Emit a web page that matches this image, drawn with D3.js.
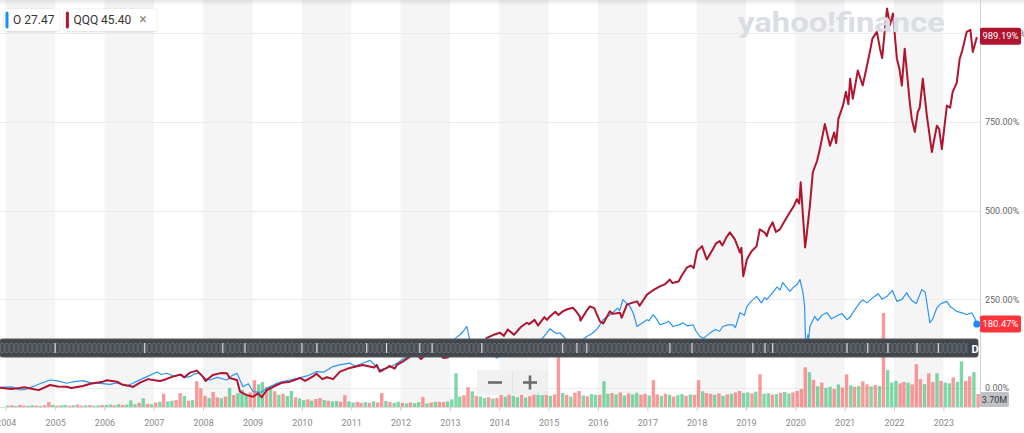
<!DOCTYPE html>
<html>
<head>
<meta charset="utf-8">
<script src="https://cdn.jsdelivr.net/npm/d3@7"></script>
<style>
body { margin: 0; background: #fff; overflow: hidden; }
svg { display: block; font-family: Roboto, "Liberation Sans", sans-serif; }
</style>
</head>
<body>
<svg id="chart" width="1024" height="433"></svg>
<script>
// ---- data (percent change since start) ----
const qqqDates = ["2003-11-19","2004-02-10","2004-04-15","2004-05-20","2004-07-20","2004-09-01","2004-11-24","2005-01-20","2005-03-28","2005-05-01","2005-07-25","2005-09-20","2005-12-21","2006-01-20","2006-04-03","2006-05-10","2006-07-08","2006-08-01","2006-09-21","2006-11-20","2006-12-25","2007-02-15","2007-03-10","2007-05-21","2007-07-20","2007-08-15","2007-09-25","2007-11-16","2007-12-30","2008-01-20","2008-03-13","2008-05-10","2008-06-25","2008-07-15","2008-09-08","2008-09-30","2008-11-20","2009-01-05","2009-02-11","2009-03-10","2009-04-17","2009-06-30","2009-08-10","2009-10-05","2009-12-18","2010-01-25","2010-03-22","2010-04-20","2010-06-01","2010-07-05","2010-08-20","2010-10-10","2010-12-22","2011-01-30","2011-03-27","2011-06-20","2011-07-09","2011-08-01","2011-09-22","2011-10-10","2011-11-20","2011-12-05","2012-01-20","2012-03-10","2012-04-10","2012-05-01","2012-06-01","2012-08-06","2012-09-20","2012-11-11","2012-12-15","2013-01-01","2013-02-23","2013-05-28","2013-07-15","2013-08-28","2013-10-02","2013-11-20","2014-01-07","2014-02-05","2014-03-05","2014-04-20","2014-06-10","2014-07-24","2014-08-10","2014-09-20","2014-10-15","2014-12-01","2014-12-20","2015-01-11","2015-02-20","2015-03-15","2015-04-16","2015-05-20","2015-06-29","2015-07-20","2015-08-20","2015-08-25","2015-10-10","2015-11-03","2015-12-05","2016-01-16","2016-02-10","2016-03-29","2016-04-20","2016-06-12","2016-06-25","2016-08-03","2016-09-10","2016-10-16","2016-11-05","2016-12-29","2017-02-10","2017-04-04","2017-05-10","2017-06-17","2017-07-05","2017-08-20","2017-09-10","2017-10-21","2017-11-20","2017-12-10","2018-01-04","2018-02-10","2018-03-17","2018-04-30","2018-05-25","2018-06-21","2018-07-10","2018-08-10","2018-09-04","2018-10-11","2018-11-17","2018-11-28","2018-12-12","2019-01-08","2019-02-10","2019-03-21","2019-04-13","2019-05-20","2019-06-04","2019-06-20","2019-07-18","2019-08-10","2019-09-09","2019-10-10","2019-11-22","2019-12-20","2020-01-13","2020-01-30","2020-02-10","2020-03-14","2020-03-25","2020-04-18","2020-05-10","2020-06-10","2020-07-01","2020-08-07","2020-09-14","2020-10-15","2020-10-30","2020-11-15","2020-12-19","2021-01-10","2021-01-28","2021-02-10","2021-03-02","2021-04-08","2021-05-14","2021-06-10","2021-07-06","2021-07-25","2021-08-27","2021-09-19","2021-10-05","2021-10-25","2021-11-10","2021-12-02","2021-12-24","2022-01-22","2022-02-10","2022-02-28","2022-03-21","2022-04-27","2022-05-12","2022-06-04","2022-06-26","2022-07-10","2022-08-02","2022-09-01","2022-10-08","2022-10-25","2022-11-14","2022-12-01","2022-12-21","2023-01-27","2023-02-20","2023-03-11","2023-04-10","2023-05-02","2023-05-20","2023-06-23","2023-07-20","2023-08-07","2023-09-06"];
const qqqPct = [1,-3,0,2,-2.8,-6,8.5,4,3.7,0,5.7,12,17.8,22,17.8,10,5.7,3,15,25,22.6,20,22,32,38,30,43.3,49,32,20,36.8,42,41.6,28,22.6,-10.5,-20,-24.6,-15,-26,-5.7,8.5,15,17.8,28.3,20,32,40,25,30.3,25,46.1,56.6,60,65.1,58,65.1,46.1,56.6,62,55,65.1,75,88.6,95,93.4,82,102.7,108,84.9,86,93.4,107.6,121.7,128,122,141.5,150,155.7,147,165,150,172,184,180,192,176,200,192,201.8,215,206,216,222,226.4,218,201.8,190,218,230.1,225,187.7,182,216,209,212.3,198,234.9,240,244.3,232,263.2,275,286.7,292,305.7,296,300,315,339.7,345,338,385.8,400,362.3,390.6,408,414.1,402,425,438.7,418.9,382.1,395,315,362.3,385,400,447.2,438,428.2,448,467,440,447.2,468,495.3,512,532.1,520,580.2,396.3,430,513.2,608.5,640,673.6,744.4,683,720,690,758.6,796.2,835,800,871.8,815.2,895.3,852.8,900,947.4,985,1004,956.7,930,1010,1069.9,1022.6,1055.8,928.4,900,852.8,956.7,806.7,760,721.8,778.4,790,871.8,767.9,665.2,700,739.6,730,673.6,796.2,790,835,860,928.4,950,1004,1010,947.4,989.19];

const oDates = ["2003-11-19","2004-02-20","2004-04-15","2004-05-25","2004-07-20","2004-09-10","2004-11-24","2005-01-20","2005-03-28","2005-05-10","2005-07-25","2005-09-15","2005-11-29","2006-02-10","2006-03-30","2006-06-16","2006-07-30","2006-10-01","2006-11-12","2007-01-25","2007-02-25","2007-04-08","2007-05-30","2007-07-12","2007-08-15","2007-09-25","2007-10-30","2007-12-08","2008-01-10","2008-02-21","2008-04-15","2008-06-25","2008-08-01","2008-09-08","2008-10-22","2008-12-01","2009-01-05","2009-03-05","2009-04-17","2009-06-30","2009-08-10","2009-10-05","2009-12-01","2010-02-08","2010-04-22","2010-06-15","2010-08-18","2010-10-15","2010-12-22","2011-01-30","2011-03-27","2011-05-20","2011-08-01","2011-10-20","2011-12-05","2012-01-20","2012-03-10","2012-05-23","2012-06-20","2012-08-28","2012-10-20","2012-11-20","2013-01-01","2013-02-10","2013-03-15","2013-04-10","2013-05-06","2013-05-25","2013-06-12","2013-07-10","2013-09-17","2013-11-01","2013-12-15","2014-01-25","2014-03-19","2014-05-10","2014-07-09","2014-09-10","2014-10-20","2014-11-20","2015-01-11","2015-02-05","2015-03-02","2015-03-24","2015-05-15","2015-06-20","2015-07-13","2015-08-25","2015-10-11","2015-11-25","2015-12-30","2016-02-08","2016-03-10","2016-04-21","2016-05-25","2016-06-10","2016-07-04","2016-08-25","2016-09-20","2016-10-16","2016-11-10","2016-12-29","2017-01-15","2017-02-13","2017-03-10","2017-04-04","2017-05-05","2017-06-10","2017-07-09","2017-08-25","2017-09-21","2017-10-25","2017-12-05","2017-12-28","2018-01-26","2018-02-20","2018-04-09","2018-05-20","2018-06-20","2018-07-13","2018-08-20","2018-09-26","2018-10-15","2018-11-17","2018-12-20","2019-01-08","2019-02-10","2019-03-21","2019-04-25","2019-05-20","2019-06-04","2019-07-18","2019-08-20","2019-09-10","2019-10-01","2019-11-22","2019-12-20","2020-01-15","2020-02-05","2020-02-27","2020-03-10","2020-03-19","2020-03-24","2020-04-03","2020-04-10","2020-04-18","2020-05-24","2020-06-15","2020-07-15","2020-08-22","2020-09-25","2020-11-05","2020-12-10","2021-01-18","2021-02-10","2021-03-02","2021-04-23","2021-05-15","2021-06-15","2021-07-28","2021-09-05","2021-10-05","2021-11-10","2021-12-20","2022-01-22","2022-03-01","2022-04-05","2022-04-20","2022-05-19","2022-06-15","2022-07-25","2022-08-20","2022-09-23","2022-10-15","2022-11-14","2022-12-15","2023-01-27","2023-02-20","2023-04-10","2023-05-20","2023-06-23","2023-07-30","2023-08-20","2023-09-06"];
const oPct = [2,3,-5.7,-4,3.7,12,22.6,20,13.3,17,20.7,15,13.3,10,14,5.7,13.3,25,32,45,38,41.6,33,36.8,30,32,40,41.6,28,22.6,30,22.6,35,41.6,3.7,12,-10.5,-12,-0.8,13.3,18,22.6,27,34,46.1,45,60.3,66,69.9,62,69.9,78,50.9,60,69.9,82,93.4,107.6,100,116.9,112,105,127.4,140,150,160,173.5,140,121.7,110,101.9,95,84.9,95,93.4,105,113.2,118,132,141.5,167,160,152.8,155.7,135.9,130,127.4,132,145.2,155,168,192.5,200,212.3,225,218,249.1,230.1,210,173.5,180,192.5,190,206.6,195,178.3,182,188,173.5,178,184,175,178.3,160,145.2,140,154.8,165,160,173.5,178,178.3,170,212.3,205,230.1,245,258.4,240,255,249.1,268.9,285,276,297.2,272.6,285,292,305.7,268.9,230,107.6,95,150,140,173.5,201.8,190,205,212.3,195,203.8,210,192.5,200,212.3,240.6,248,240,254.7,266,250,258.4,275,244.3,250,268.9,258,244.3,238,277.4,270,184,195,226.4,238,244.3,230,216,212,206.6,212,198,180.47];

// monthly volume of O in millions, from Jan 2004
const volumeM = [
  0.4,0.5,0.3,0.6,0.4,0.3,0.5,0.4,0.3,0.5,1.4,0.6,
  0.4,0.5,0.6,0.4,0.5,0.7,0.4,0.5,0.6,0.4,0.5,0.6,
  0.6,0.7,0.5,0.8,0.6,0.7,1.9,0.8,1.2,2.5,0.9,0.8,
  1.3,1.5,3.8,1.6,1.8,2.0,4.0,3.2,1.8,2.0,7.4,5.4,
  3.2,2.6,4.3,2.8,2.5,3.0,5.5,3.4,4.0,4.9,3.6,4.2,
  7.7,6.5,7.2,5.8,6.0,4.5,3.5,3.8,3.2,4.6,2.8,2.5,
  2.0,2.2,1.8,2.3,2.6,2.0,1.8,1.6,1.7,1.5,3.4,1.6,
  1.3,1.5,1.2,1.4,1.2,1.6,1.3,4.0,1.7,1.4,1.2,1.5,
  1.2,1.0,1.3,1.1,1.4,2.9,1.0,1.3,1.5,1.5,1.4,1.6,
  2.2,9.7,3.0,3.4,5.7,4.5,3.2,3.0,2.6,2.8,2.4,2.6,
  3.5,3.0,4.0,3.2,2.8,3.6,2.7,3.1,3.8,4.2,3.4,4.6,
  3.2,3.6,19.0,4.0,3.5,3.0,4.1,4.6,3.3,3.1,3.7,3.5,
  3.5,7.4,3.8,4.0,3.6,4.2,3.3,3.9,3.6,4.1,3.5,3.8,
  3.3,7.7,3.6,3.2,3.8,3.5,3.0,3.4,3.7,3.2,3.6,3.5,
  7.7,4.5,4.0,3.8,3.5,3.9,3.2,3.6,3.8,4.2,4.6,4.0,
  4.2,3.9,4.4,9.4,3.8,4.0,3.6,3.7,4.1,4.3,3.9,4.2,
  4.6,5.2,11.4,10.0,7.8,6.0,7.0,5.5,5.8,5.2,6.5,5.6,
  9.4,6.2,5.8,6.0,7.4,6.5,5.9,6.3,6.0,27.0,10.6,7.0,
  7.5,6.8,7.2,7.0,6.5,12.3,8.0,6.6,9.7,7.2,9.7,7.5,
  7.0,6.8,8.5,7.2,13.1,7.5,8.8,10.0,3.7
];
// g = up month, r = down month
const volumeDir = "grgrrggrgrrg" + "rggrgrrgrggr" + "ggrgrgggrgrg" + "rgrggrrgrgrr" +
  "rgrrgrgrgggr" + "rggrgrgrggrg" + "grgrrgrggrrg" + "grrgrgrrgrgg" +
  "rgrggrgrgrrg" + "gggrrgrggrgr" + "rgrggrgrrggr" + "grrgrgrrgrgg" +
  "rggrgrgrggrr" + "grrgrgrggrgr" + "rgrrgrgrgrrg" + "grgrggrgrggr" +
  "rrrgrgrggrgr" + "rgrgrrgrgrgg" + "grrgrrrgrrgr" + "ggrggrrgr";

const yTicks = [0, 250, 500, 750, 1000];
const navMarks = ["2005-01-01","2006-10-26","2008-05-26","2008-11-06","2010-01-01","2010-04-22","2011-04-26","2011-09-20","2012-05-23","2012-08-22","2013-08-25","2015-04-16","2015-07-30","2015-10-11","2017-06-17","2017-11-28","2019-02-21","2019-05-22","2019-07-18","2021-01-18","2021-06-20","2021-11-17","2022-06-20","2022-11-25"];

const legendItems = [
  { sym: "O", val: "27.47", color: "#1a8cff" },
  { sym: "QQQ", val: "45.40", color: "#b0142f" }
];

// ---- layout ----
const plotRight = 980;
const plotBottom = 407;
const parse = d3.timeParse("%Y-%m-%d");

const svg = d3.select("#chart");

const x = d3.scaleTime()
  .domain([parse("2004-01-01"), parse("2023-01-01")])
  .range([5.7, 943.35]);
const y = d3.scaleLinear().domain([0, 1000]).range([388, 33.3]);
const yVol = d3.scaleLinear().domain([0, 27]).range([plotBottom, 313]);

const defs = svg.append("defs");
defs.append("clipPath").attr("id", "plotClip")
  .append("rect").attr("x", 0).attr("y", 0).attr("width", plotRight).attr("height", plotBottom);

const topShade = defs.append("linearGradient").attr("id", "topShade")
  .attr("x1", 0).attr("y1", 0).attr("x2", 0).attr("y2", 1);
topShade.append("stop").attr("offset", "0%").attr("stop-color", "#000").attr("stop-opacity", 0.09);
topShade.append("stop").attr("offset", "100%").attr("stop-color", "#000").attr("stop-opacity", 0);

const pat = defs.append("pattern").attr("id", "navPat")
  .attr("patternUnits", "userSpaceOnUse").attr("width", 4.6).attr("height", 18).attr("y", 339);
pat.append("rect").attr("x", 0.8).attr("y", 4.5).attr("width", 3).attr("height", 9).attr("rx", 1)
  .attr("fill", "none").attr("stroke", "#72777e").attr("stroke-width", 0.8);

const chip = defs.append("filter").attr("id", "chipShadow").attr("x", "-20%").attr("y", "-30%").attr("width", "140%").attr("height", "160%");
chip.append("feDropShadow").attr("dx", 0).attr("dy", 0.5).attr("stdDeviation", 1.2).attr("flood-color", "#000").attr("flood-opacity", 0.18);

const plot = svg.append("g").attr("clip-path", "url(#plotClip)");

// alternating year bands
const bandYears = d3.range(2004, 2023, 2);
plot.selectAll("rect.band").data(bandYears).join("rect")
  .attr("class", "band")
  .attr("x", d => x(new Date(d, 0, 1)))
  .attr("width", d => x(new Date(d + 1, 0, 1)) - x(new Date(d, 0, 1)))
  .attr("y", 0).attr("height", plotBottom)
  .attr("fill", "#f5f5f5");

// grid lines
plot.selectAll("line.grid").data(yTicks).join("line")
  .attr("class", "grid")
  .attr("x1", 0).attr("x2", plotRight)
  .attr("y1", d => Math.round(y(d)) + 0.5).attr("y2", d => Math.round(y(d)) + 0.5)
  .attr("stroke", "#ebebeb");

// watermark
svg.append("text")
  .attr("x", 738).attr("y", 32)
  .attr("textLength", 207).attr("lengthAdjust", "spacingAndGlyphs")
  .attr("font-size", 28).attr("font-weight", "bold")
  .attr("fill", "#dadde2")
  .text("yahoo!finance");

// volume bars
const volData = volumeM.map((v, i) => ({
  date: new Date(2004 + Math.floor(i / 12), i % 12, 15),
  v: v,
  up: volumeDir[i] === "g"
}));
plot.selectAll("rect.vol").data(volData).join("rect")
  .attr("class", "vol")
  .attr("x", d => x(d.date) - 1.7)
  .attr("width", 3.4)
  .attr("y", d => yVol(d.v))
  .attr("height", d => plotBottom - yVol(d.v))
  .attr("fill", d => d.up ? "#2fbf6f" : "#f75a5a")
  .attr("fill-opacity", 0.62);

// lines
const line = d3.line()
  .x(d => x(d.date))
  .y(d => y(d.pct));
const oSeries = oDates.map((d, i) => ({ date: parse(d), pct: oPct[i] }));
const qqqSeries = qqqDates.map((d, i) => ({ date: parse(d), pct: qqqPct[i] }));

plot.append("path").datum(oSeries)
  .attr("fill", "none").attr("stroke", "#2b93f5").attr("stroke-width", 1.2)
  .attr("stroke-linejoin", "round")
  .attr("d", line);
plot.append("path").datum(qqqSeries)
  .attr("fill", "none").attr("stroke", "#b0142f").attr("stroke-width", 2)
  .attr("stroke-linejoin", "round")
  .attr("d", line);

// navigator strip over the chart
svg.append("rect")
  .attr("x", 0).attr("y", 339).attr("width", 978).attr("height", 18).attr("rx", 2)
  .attr("fill", "#42464d").attr("stroke", "#555a61");
svg.append("rect")
  .attr("x", 0).attr("y", 339).attr("width", 968).attr("height", 18)
  .attr("fill", "url(#navPat)");
svg.selectAll("line.navmark").data(navMarks).join("line")
  .attr("class", "navmark")
  .attr("x1", d => x(parse(d))).attr("x2", d => x(parse(d)))
  .attr("y1", 343).attr("y2", 353)
  .attr("stroke", "#e4e4e4").attr("stroke-width", 1.1);
svg.append("text")
  .attr("x", 975).attr("y", 352.5).attr("text-anchor", "middle")
  .attr("font-size", 11).attr("font-weight", "bold").attr("fill", "#fff")
  .text("D");

// zoom buttons
const zoomG = svg.append("g");
zoomG.append("rect").attr("x", 477).attr("y", 370).attr("width", 71).attr("height", 25)
  .attr("fill", "#efefef").attr("fill-opacity", 0.85);
zoomG.append("line").attr("x1", 512.5).attr("x2", 512.5).attr("y1", 372).attr("y2", 393)
  .attr("stroke", "#e2e2e2");
zoomG.append("line").attr("x1", 488).attr("x2", 502).attr("y1", 382.5).attr("y2", 382.5)
  .attr("stroke", "#6b6b6b").attr("stroke-width", 2.6);
zoomG.append("line").attr("x1", 523).attr("x2", 537).attr("y1", 382.5).attr("y2", 382.5)
  .attr("stroke", "#6b6b6b").attr("stroke-width", 2.6);
zoomG.append("line").attr("x1", 530).attr("x2", 530).attr("y1", 375.5).attr("y2", 389.5)
  .attr("stroke", "#6b6b6b").attr("stroke-width", 2.6);

// top shading
svg.append("rect").attr("x", 0).attr("y", 0).attr("width", 1024).attr("height", 6)
  .attr("fill", "url(#topShade)");

// right axis
svg.append("line").attr("x1", plotRight + 0.5).attr("x2", plotRight + 0.5)
  .attr("y1", 0).attr("y2", plotBottom).attr("stroke", "#d2d2d2");
const yAxis = d3.axisRight(y)
  .tickValues(yTicks)
  .tickSize(0).tickPadding(5)
  .tickFormat(d => d3.format(",.2f")(d) + "%");
const yAxisG = svg.append("g").attr("transform", `translate(${plotRight},0)`).call(yAxis);
yAxisG.select(".domain").remove();
yAxisG.selectAll("text").attr("font-size", 9).attr("fill", "#666")
  .attr("font-family", "Roboto, 'Liberation Sans', sans-serif");

// bottom axis
const xAxis = d3.axisBottom(x)
  .ticks(d3.timeYear.every(1))
  .tickFormat(d3.timeFormat("%Y"))
  .tickSize(4).tickPadding(9);
const xAxisG = svg.append("g").attr("transform", `translate(0,${plotBottom})`).call(xAxis);
xAxisG.select(".domain").attr("stroke", "#dddddd").attr("d", `M0,0.5H${plotRight}`);
xAxisG.selectAll(".tick line").attr("stroke", "#cfcfcf");
xAxisG.selectAll("text").attr("font-size", 9).attr("fill", "#8a8a8a")
  .attr("font-family", "Roboto, 'Liberation Sans', sans-serif");

// end-of-line labels
const lastQ = qqqSeries[qqqSeries.length - 1];
const lastO = oSeries[oSeries.length - 1];
function endTag(val, color, dy) {
  const cy = y(val) + dy;
  svg.append("rect").attr("x", 980).attr("y", cy - 8.5).attr("width", 41).attr("height", 17)
    .attr("rx", 2).attr("fill", color);
  svg.append("text").attr("x", 1000.5).attr("y", cy + 3.3).attr("text-anchor", "middle")
    .attr("font-size", 9.5).attr("fill", "#fff")
    .text(d3.format(".2f")(val) + "%");
}
endTag(lastQ.pct, "#b0142f", -1);
endTag(lastO.pct, "#ff333a", 0);
svg.append("circle").attr("cx", x(lastO.date)).attr("cy", y(lastO.pct)).attr("r", 3.6)
  .attr("fill", "#1a8cff");

// current volume tag
svg.append("rect").attr("x", 980).attr("y", 392).attr("width", 29).attr("height", 15)
  .attr("rx", 2).attr("fill", "#bfc1c6");
svg.append("text").attr("x", 994.5).attr("y", 402.5).attr("text-anchor", "middle")
  .attr("font-size", 9).attr("fill", "#3a3a3a")
  .text(d3.format(".2f")(volumeM[volumeM.length - 1]) + "M");

// legend chips
let lx = 4;
legendItems.forEach((it, i) => {
  const g = svg.append("g");
  const t = g.append("text").attr("x", lx + 9).attr("y", 24)
    .attr("font-size", 12).attr("fill", "#333")
    .text(`${it.sym} ${it.val}`);
  let w = t.node().getComputedTextLength() + 14;
  if (i === legendItems.length - 1) {
    g.append("text").attr("x", lx + w + 3).attr("y", 24)
      .attr("font-size", 14).attr("fill", "#888").text("×");
    w += 20;
  }
  g.insert("rect", "text").attr("x", lx).attr("y", 9).attr("width", w).attr("height", 22)
    .attr("rx", 3).attr("fill", "#fff").attr("filter", "url(#chipShadow)");
  g.insert("rect", "text").attr("x", lx + 1.5).attr("y", 11.5).attr("width", 3).attr("height", 17)
    .attr("rx", 1.5).attr("fill", it.color);
  lx += w + 5;
});
</script>
</body>
</html>
